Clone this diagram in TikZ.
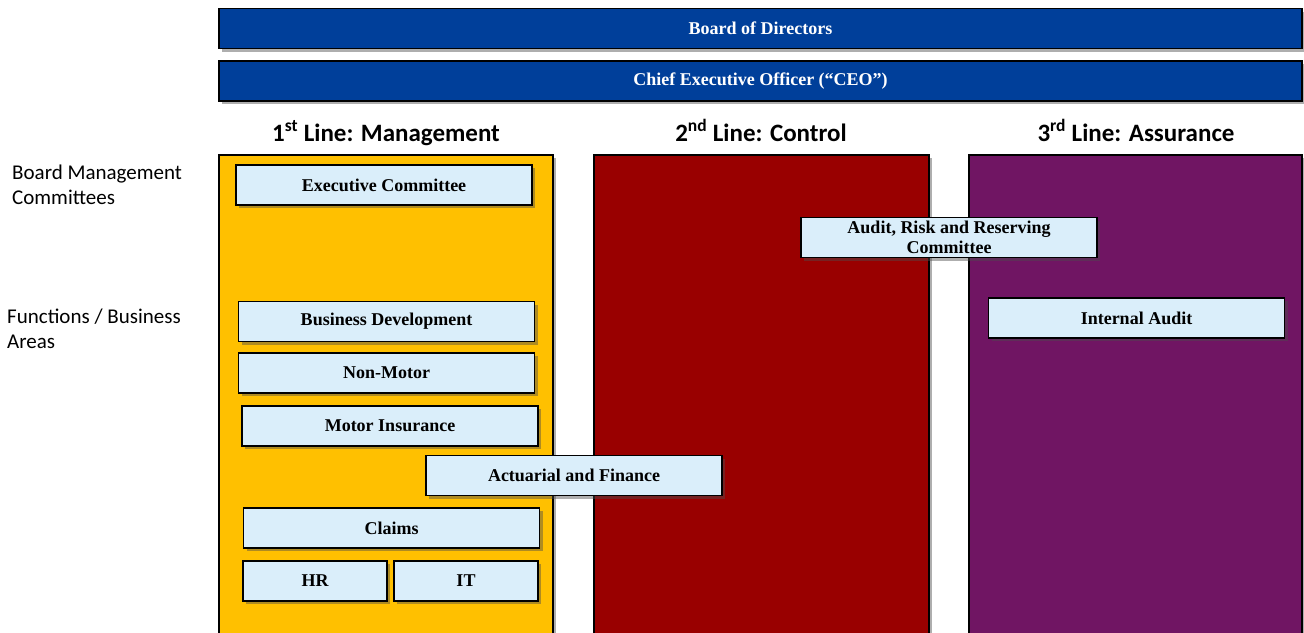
\documentclass[tikz,border=0pt]{standalone}
\usepackage{fontspec}
\setmainfont{Liberation Serif}
\setsansfont{Carlito}
\usetikzlibrary{shadows}

\definecolor{barblue}{RGB}{0,63,154}
\definecolor{lineone}{RGB}{255,192,0}
\definecolor{linetwo}{RGB}{153,0,0}
\definecolor{linethree}{RGB}{112,21,99}
\definecolor{unitfill}{RGB}{218,238,250}

\tikzset{
  shade/.style={drop shadow={shadow xshift=3pt,shadow yshift=-3pt,opacity=0.45,fill=black!70}},
  bar/.style={draw=black,line width=1.8pt,fill=barblue,shade,minimum width=1083pt,minimum height=40pt,
    text=white,font=\fontsize{18pt}{18pt}\selectfont\bfseries},
  colbox/.style={draw=black,line width=1.8pt,shade},
  unitbox/.style={draw=black,line width=1.8pt,fill=unitfill,shade,minimum width=296pt,minimum height=40pt,
    inner sep=0pt,align=center,font=\fontsize{18pt}{20pt}\selectfont\bfseries},
  heading/.style={anchor=base,font=\sffamily\bfseries\fontsize{25pt}{25pt}\selectfont},
  sidelabel/.style={anchor=west,align=left,inner sep=0pt,font=\sffamily\fontsize{21pt}{25pt}\selectfont}
}

\begin{document}
\begin{tikzpicture}[x=1pt,y=-1pt]
               \useasboundingbox (0,0) rectangle (1304,632);
               % top bars
               \node [bar] (board) at (760.5,28.5) {Board of Directors};
               \node [bar] (ceo) at (760.5,81) {Chief Executive Officer (``CEO'')};
               % the three lines
               \draw [colbox,fill=lineone] (219,155) rectangle (553,650);
               \draw [colbox,fill=linetwo] (594,155) rectangle (929,650);
               \draw [colbox,fill=linethree] (969,155) rectangle (1302,650);
               \node [heading] (first) at (386,141) {1\textsuperscript{st} Line: Management};
               \node [heading] (second) at (761,141) {2\textsuperscript{nd} Line: Control};
               \node [heading] (third) at (1136,141) {3\textsuperscript{rd} Line: Assurance};
               % row labels
               \node [sidelabel] (boardcom) at (12,185) {Board Management\\Committees};
               \node [sidelabel] (functions) at (7,329) {Functions / Business\\Areas};
               % committees
               \node [unitbox] (exec) at (384,185) {Executive Committee};
               \node [unitbox] (arrc) at (949,237.5) {Audit, Risk and Reserving\\Committee};
               % functions
               \node [unitbox] (audit) at (1136.5,318) {Internal Audit};
               \node [unitbox] (bizdev) at (386.5,321.5) {Business Development};
               \node [unitbox] (nonmotor) at (386.5,373) {Non-Motor};
               \node [unitbox] (motor) at (390,426) {Motor Insurance};
               \node [unitbox] (actfin) at (574,475.5) {Actuarial and Finance};
               \node [unitbox] (claims) at (391.5,528) {Claims};
               \node [unitbox,minimum width=144pt] (hr) at (315,581) {HR};
               \node [unitbox,minimum width=144pt] (it) at (466,581) {IT};
            \end{tikzpicture}
\end{document}
